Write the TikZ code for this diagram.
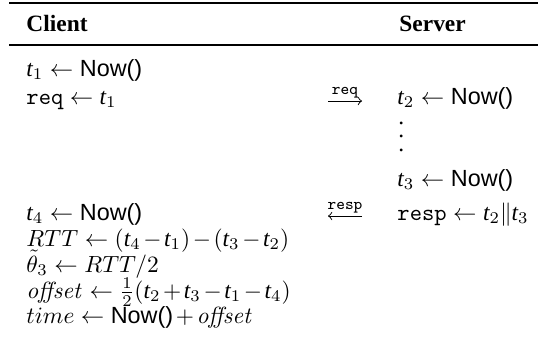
\documentclass[tikz,border=0pt]{standalone}
\usepackage{amsmath}
\usepackage[no-math]{fontspec}
\setmainfont{Liberation Serif}
\newfontfamily\helv{Liberation Sans}
\newcommand{\nowfn}{\text{\helv Now()}}
\newcommand{\tv}[1]{\textit{t}_{#1}}
\newcommand{\myvdots}{\vbox{\baselineskip5.6pt\lineskiplimit0pt\hbox{.}\hbox{.}\hbox{.}}}
\medmuskip=2mu plus 1mu minus 1mu
\begin{document}
\begin{tikzpicture}[x=0.4274pt,y=-0.4274pt,
  txt/.style={anchor=base west, inner sep=0pt, font=\fontsize{10}{12}\selectfont},
  hd/.style={txt, font=\fontsize{10}{12}\selectfont\bfseries},
  msg/.style={-to, line width=0.4pt},
  lbl/.style={font=\fontsize{7}{8}\selectfont\ttfamily, inner sep=0pt, above=1.2pt}]
\useasboundingbox (0,0) rectangle (538,351);
% rules
\draw[line width=0.8pt] (9,3) -- (538,3);
\draw[line width=0.5pt] (9,45) -- (538,45);
% header
\node[hd] (client) at (26,31) {Client};
\node[hd] (server) at (399,31) {Server};
% client column
\node[txt] (c1) at (26,76) {$\tv{1} \leftarrow \nowfn$};
\node[txt] (c2) at (26,104) {$\texttt{req} \leftarrow \tv{1}$};
\node[txt] (c3) at (26,220) {$\tv{4} \leftarrow \nowfn$};
\node[txt] (c4) at (26,246) {$RTT \leftarrow (\tv{4}-\tv{1})-(\tv{3}-\tv{2})$};
\node[txt] (c5) at (26,272) {$\tilde{\theta}_3 \leftarrow RTT/2$};
\node[txt] (c6) at (26,298) {$\mathit{offset} \leftarrow \frac{1}{2}(\tv{2}+\tv{3}-\tv{1}-\tv{4})$};
\node[txt] (c7) at (26,323) {$time \leftarrow \nowfn + \mathit{offset}$};
% server column
\node[txt] (s1) at (397,104) {$\tv{2} \leftarrow \nowfn$};
\node[txt] (s2) at (398,151) {\myvdots};
\node[txt] (s3) at (397,186) {$\tv{3} \leftarrow \nowfn$};
\node[txt] (s4) at (397,220) {$\texttt{resp} \leftarrow \tv{2} \| \tv{3}$};
% messages
\coordinate (rqa) at (328,101);
\coordinate (rqb) at (362,101);
\draw[msg] (rqa) -- (rqb) node[midway, lbl] (rql) {req};
\coordinate (rsa) at (362,216);
\coordinate (rsb) at (328,216);
\draw[msg] (rsa) -- (rsb) node[midway, lbl] (rsl) {resp};
\end{tikzpicture}
\end{document}
